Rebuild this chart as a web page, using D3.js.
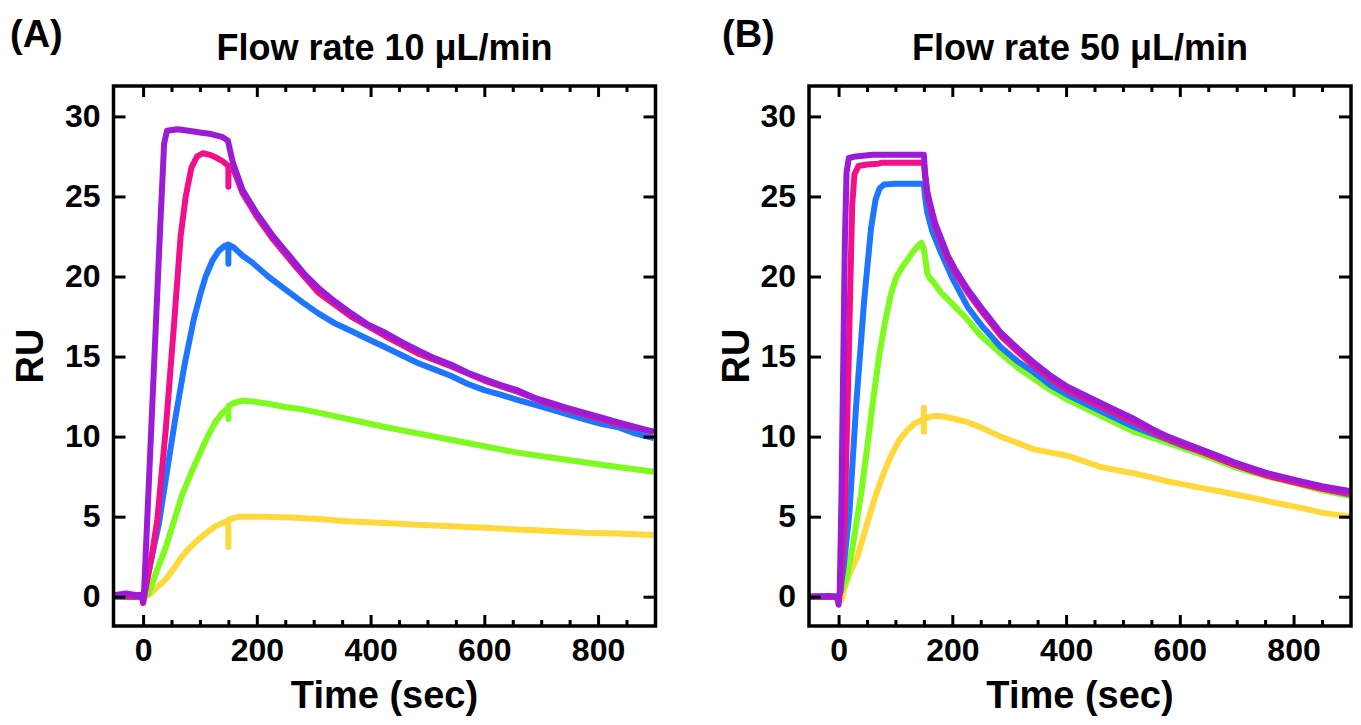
<!DOCTYPE html>
<html>
<head>
<meta charset="utf-8">
<script src="https://cdn.jsdelivr.net/npm/d3@7"></script>
<style>
  body { margin: 0; background: #fff; }
  text { font-family: "Liberation Sans", Arial, sans-serif; font-weight: bold; fill: #000; }
</style>
</head>
<body>
<svg id="chart" width="1361" height="725"></svg>
<script>
// ---- data (time in sec, response in RU) ----
const xMajor = [0, 200, 400, 600, 800]
const xMinor = [50, 100, 150, 250, 300, 350, 450, 500, 550, 650, 700, 750, 850]
const yMajor = [0, 5, 10, 15, 20, 25, 30]

const colors = ["#FFD83C", "#7DFA1E", "#1E76FF", "#F20F8C", "#9B1BD6"]

// panel A, 10 uL/min
const a_yellow = [[-52,0],[0,0],[10,0.1],[25,0.6],[40,1.1],[55,1.8],[68,2.5],[83,3.1],[98,3.6],[112,4.0],[127,4.4],[140,4.6],[150,4.75],[150,3.1],[150,4.8],[168,5.0],[214,5.0],[260,4.95],[308,4.85],[366,4.7],[425,4.6],[483,4.5],[541,4.4],[600,4.3],[658,4.2],[717,4.1],[775,4.0],[834,3.95],[898,3.85]]
const a_green = [[-52,0],[0,0],[10,0.2],[25,1.7],[40,3.1],[55,4.8],[68,6.3],[83,7.6],[98,8.8],[112,9.9],[127,10.9],[140,11.5],[150,11.8],[150,11.1],[150,11.9],[160,12.1],[175,12.25],[191,12.2],[220,12.05],[250,11.85],[280,11.7],[308,11.5],[366,11.05],[425,10.6],[483,10.2],[541,9.8],[600,9.4],[658,9.0],[717,8.7],[775,8.4],[834,8.1],[898,7.8]]
const a_blue = [[-52,0],[0,0],[10,1.6],[28,4.6],[45,8.5],[57,11.2],[73,14.5],[89,17.3],[100,18.8],[110,20.0],[122,21.0],[133,21.6],[143,21.9],[150,22.0],[150,20.8],[150,22.0],[160,21.8],[175,21.3],[191,20.9],[220,20.0],[250,19.2],[280,18.4],[308,17.7],[336,17.1],[366,16.6],[395,16.1],[425,15.6],[454,15.1],[483,14.6],[512,14.2],[541,13.8],[570,13.3],[600,12.9],[630,12.6],[658,12.3],[688,12.0],[717,11.7],[745,11.4],[775,11.1],[805,10.8],[834,10.6],[865,10.2],[898,9.9]]
const a_pink = [[-52,0.05],[-2,0],[0,-0.4],[3,0.2],[15,2.5],[25,4.8],[40,10.5],[54,16.8],[66,22.5],[75,25.0],[85,26.8],[95,27.5],[105,27.7],[118,27.6],[130,27.4],[140,27.2],[150,26.9],[150,25.6],[150,26.9],[158,26.8],[175,25.2],[199,23.8],[229,22.3],[264,20.8],[308,19.0],[366,17.5],[425,16.3],[483,15.2],[541,14.4],[600,13.5],[658,12.8],[717,12.0],[775,11.4],[834,10.8],[898,10.3]]
const a_purple = [[-52,0.1],[-30,0.2],[-10,0.1],[-2,0.1],[0,-0.3],[2,0.5],[10,7],[20,15],[30,23],[37,28.3],[42,29.1],[60,29.2],[80,29.1],[100,29.0],[120,28.9],[140,28.7],[149,28.5],[158,27.1],[175,25.4],[199,24.0],[229,22.5],[264,21.0],[285,20.1],[308,19.3],[335,18.5],[366,17.7],[395,17.0],[425,16.5],[455,15.9],[483,15.4],[512,14.9],[541,14.5],[570,14.0],[600,13.6],[630,13.2],[658,12.9],[690,12.4],[717,12.1],[745,11.8],[775,11.5],[805,11.2],[834,10.9],[865,10.6],[898,10.3]]

// panel B, 50 uL/min
const b_yellow = [[-52,0],[0,0],[5,-0.2],[10,0.5],[20,1.5],[34,2.6],[48,4.3],[63,6.1],[78,7.6],[92,8.8],[107,9.8],[121,10.4],[135,10.85],[150,11.1],[150,11.8],[150,10.3],[150,11.1],[168,11.3],[185,11.25],[205,11.1],[227,10.9],[255,10.5],[285,10.0],[315,9.6],[344,9.2],[373,9.0],[403,8.8],[432,8.45],[461,8.1],[490,7.9],[520,7.7],[550,7.45],[579,7.2],[608,7.0],[637,6.8],[667,6.6],[696,6.4],[725,6.2],[755,5.96],[784,5.75],[813,5.55],[850,5.25],[898,5.0]]
const b_green = [[-52,0],[0,0],[3,0.2],[14,1.1],[25,3.2],[40,6.5],[52,9.8],[62,12.6],[72,15.2],[82,17.2],[92,18.9],[102,20.0],[112,20.6],[122,21.1],[132,21.6],[142,22.0],[146,22.1],[150,21.7],[153,21.0],[156,20.2],[160,19.9],[168,19.6],[180,19.0],[197,18.4],[227,17.3],[250,16.3],[285,15.2],[315,14.3],[344,13.6],[373,12.9],[403,12.3],[432,11.8],[461,11.3],[490,10.8],[520,10.3],[550,9.95],[579,9.6],[608,9.25],[637,8.9],[667,8.5],[696,8.1],[725,7.8],[755,7.5],[784,7.25],[813,7.0],[850,6.65],[898,6.3]]
const b_blue = [[-52,0],[0,0],[3,0.3],[10,2.2],[19,5.2],[31,12.0],[45,18.5],[57,23.0],[65,24.8],[72,25.5],[80,25.75],[100,25.8],[150,25.8],[152,25.0],[156,24.0],[165,22.8],[180,21.5],[200,19.9],[227,18.1],[250,17.0],[285,15.6],[315,14.7],[344,14.0],[373,13.2],[403,12.6],[432,12.1],[461,11.6],[490,11.1],[520,10.6],[550,10.2],[579,9.8],[608,9.4],[637,9.1],[667,8.65],[696,8.25],[725,7.9],[755,7.6],[784,7.35],[813,7.1],[850,6.75],[898,6.4]]
const b_pink = [[-52,0],[0,0],[3,0.3],[8,3],[11,5.2],[17,13.6],[21,20],[24,24.5],[28,26.4],[35,26.9],[50,27.0],[70,27.05],[75,27.1],[150,27.1],[152,26.3],[156,25.1],[162,24.2],[170,23.1],[180,22.2],[192,21.1],[204,20.3],[227,19.0],[250,17.9],[285,16.3],[315,15.3],[344,14.4],[373,13.6],[403,12.9],[432,12.4],[461,11.9],[490,11.4],[520,10.9],[550,10.35],[579,9.85],[608,9.45],[637,9.05],[667,8.65],[696,8.25],[725,7.9],[755,7.55],[784,7.3],[813,7.05],[850,6.75],[898,6.45]]
const b_purple = [[-52,0],[-20,0.05],[-3,0],[0,-0.5],[2,0.3],[5,6],[8,14],[11,22],[14,26.5],[18,27.4],[30,27.5],[60,27.6],[100,27.6],[150,27.6],[152,26.5],[156,25.3],[162,24.4],[170,23.3],[180,22.4],[192,21.3],[204,20.5],[227,19.2],[250,18.1],[285,16.5],[315,15.5],[344,14.6],[373,13.8],[403,13.1],[432,12.6],[461,12.1],[490,11.6],[520,11.1],[550,10.5],[579,10.0],[608,9.6],[637,9.2],[667,8.8],[696,8.4],[725,8.05],[755,7.7],[784,7.45],[813,7.2],[850,6.9],[898,6.6]]

const panels = [
  {left: 113.5, letter: "(A)", letterX: 10, title: "Flow rate 10 \u03BCL/min", ruX: 43, series: [a_yellow, a_green, a_blue, a_pink, a_purple]},
  {left: 809, letter: "(B)", letterX: 722, title: "Flow rate 50 \u03BCL/min", ruX: 749, series: [b_yellow, b_green, b_blue, b_pink, b_purple]}
]

const plotTop = 86, W = 542, H = 540
const svg = d3.select("#chart")

panels.forEach((p, i) => {
  const x = d3.scaleLinear().domain([-52, 901]).range([0, W])
  const y = d3.scaleLinear().domain([-1.83, 31.9]).range([H, 0])

  const g = svg.append("g").attr("transform", `translate(${p.left},${plotTop})`)

  g.append("clipPath").attr("id", "clip" + i)
    .append("rect").attr("width", W).attr("height", H)

  const line = d3.line().x(d => x(d[0])).y(d => y(d[1]))
  const lines = g.append("g").attr("clip-path", `url(#clip${i})`)
  p.series.forEach((s, k) => {
    lines.append("path")
      .attr("d", line(s))
      .attr("fill", "none")
      .attr("stroke", colors[k])
      .attr("stroke-width", 6)
      .attr("stroke-linejoin", "round")
  })

  // ticks point inward, mirrored on top and right
  const styleAxis = sel => {
    sel.select(".domain").remove()
    sel.selectAll("line").attr("stroke", "#000").attr("stroke-width", 3)
    sel.selectAll("text").attr("font-size", 32).attr("fill", "#000")
      .style("font-family", "'Liberation Sans', Arial, sans-serif").style("font-weight", "bold")
  }

  g.append("g").attr("transform", `translate(0,${H})`)
    .call(d3.axisBottom(x).tickValues(xMajor).tickSize(-11).tickPadding(12).tickFormat(d3.format("d")))
    .call(styleAxis)
  g.append("g").attr("transform", `translate(0,${H})`)
    .call(d3.axisBottom(x).tickValues(xMinor).tickSize(-6).tickFormat(""))
    .call(styleAxis)
  g.append("g")
    .call(d3.axisTop(x).tickValues(xMajor).tickSize(-11).tickFormat(""))
    .call(styleAxis)
  g.append("g")
    .call(d3.axisTop(x).tickValues(xMinor).tickSize(-6).tickFormat(""))
    .call(styleAxis)
  g.append("g")
    .call(d3.axisLeft(y).tickValues(yMajor).tickSize(-12).tickPadding(13))
    .call(styleAxis)
  g.append("g").attr("transform", `translate(${W},0)`)
    .call(d3.axisRight(y).tickValues(yMajor).tickSize(-12).tickFormat(""))
    .call(styleAxis)

  g.append("rect")
    .attr("width", W).attr("height", H)
    .attr("fill", "none").attr("stroke", "#000").attr("stroke-width", 3.5)

  svg.append("text")
    .attr("x", p.left + W / 2).attr("y", 60)
    .attr("text-anchor", "middle").attr("font-size", 36)
    .text(p.title)

  svg.append("text")
    .attr("x", p.letterX).attr("y", 47)
    .attr("font-size", 38)
    .text(p.letter)

  svg.append("text")
    .attr("x", p.left + W / 2).attr("y", 708)
    .attr("text-anchor", "middle").attr("font-size", 38)
    .text("Time (sec)")

  svg.append("text")
    .attr("transform", `translate(${p.ruX},${plotTop + H / 2}) rotate(-90)`)
    .attr("text-anchor", "middle").attr("font-size", 38)
    .text("RU")
})
</script>
</body>
</html>
